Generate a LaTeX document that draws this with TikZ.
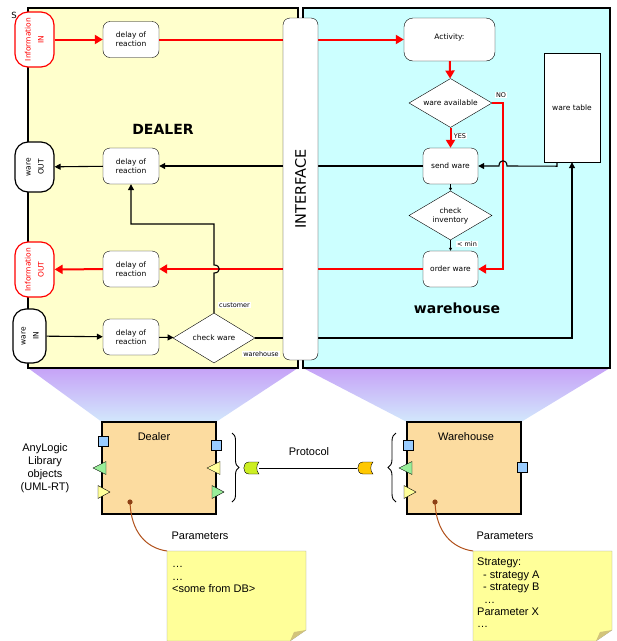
\documentclass[tikz,border=0pt]{standalone}
\usepackage{fontspec}
\setmainfont{Liberation Sans}
\newfontfamily\flowfont{DejaVu Sans}
\usetikzlibrary{arrows.meta,shapes.geometric,decorations.pathreplacing}

\definecolor{dealerbg}{HTML}{FFFFCC}
\definecolor{housebg}{HTML}{CCFFFF}
\definecolor{lilac}{HTML}{C6A2F7}
\definecolor{paleblue}{HTML}{D2E8FC}
\definecolor{objfill}{HTML}{FCDCA0}
\definecolor{portblue}{HTML}{99CCFF}
\definecolor{portgreen}{HTML}{99EE99}
\definecolor{portyellow}{HTML}{FFFF99}
\definecolor{notefill}{HTML}{FFFF99}
\definecolor{notefold}{HTML}{D2C47A}
\definecolor{notegray}{HTML}{999999}
\definecolor{pinbrown}{HTML}{B0501A}
\definecolor{pluglime}{HTML}{CCEE22}
\definecolor{plugorange}{HTML}{FFC800}

\begin{document}
\begin{tikzpicture}[x=1pt,y=-1pt,
  panel/.style={draw,line width=2.6pt},
  delaybox/.style={draw,fill=white,rounded corners=7pt,minimum width=56pt,minimum height=36pt,
    inner sep=0pt,align=center,font=\flowfont\fontsize{7.5}{9}\selectfont},
  decision/.style={diamond,draw,fill=white,aspect=1.7,minimum width=83pt,minimum height=49pt,inner sep=0pt,
    align=center,font=\flowfont\fontsize{7.5}{9}\selectfont},
  terminal/.style={draw,fill=white,rounded corners=13pt,minimum width=39pt,minimum height=55pt,
    inner sep=0pt,line width=1.2pt,font=\flowfont\fontsize{7.5}{13}\selectfont},
  flowtag/.style={fill=white,inner sep=0.8pt,font=\flowfont\fontsize{6.5}{8}\selectfont},
  flow/.style={line width=1.1pt,-{Triangle[length=6pt,width=6pt]}},
  smallflow/.style={line width=1pt,-{Triangle[length=3pt,width=3pt]}},
  redflow/.style={red,line width=2pt,-{Triangle[length=8pt,width=9pt]}},
  objbox/.style={draw,fill=objfill,line width=1.3pt,minimum width=114pt,minimum height=92pt},
  plain/.style={font=\fontsize{11}{13}\selectfont,align=center,inner sep=0pt},
  notetext/.style={font=\fontsize{11}{12.4}\selectfont,align=left,inner sep=0pt,anchor=north west}]
  \useasboundingbox (0,0) rectangle (617,641);

  % light cones under the two panels
  \shade[top color=lilac,bottom color=paleblue] (28,368) -- (298,368) -- (216,422) -- (102,422) -- cycle;
  \shade[top color=lilac,bottom color=paleblue] (303,368) -- (610,368) -- (521,422) -- (407,422) -- cycle;

  \draw[panel,fill=dealerbg] (28,8) rectangle (298,368);
  \draw[panel,fill=housebg] (303,8) rectangle (610,368);

  \node[font=\flowfont\fontsize{8.5}{9}\selectfont] (smark) at (14,15) {S};
  \node[font=\flowfont\bfseries\fontsize{14}{16}\selectfont] (dealerlbl) at (163,129) {DEALER};
  \node[font=\flowfont\bfseries\fontsize{14}{16}\selectfont] (houselbl) at (457,308) {warehouse};

  % dealer side
  \node[terminal,draw=red,text=red] (infoin) at (34.5,39.5)
    {\rotatebox{90}{\begin{tabular}{@{}c@{}}Information\\IN\end{tabular}}};
  \node[terminal,minimum height=50pt] (wareout) at (34.5,167)
    {\rotatebox{90}{\begin{tabular}{@{}c@{}}ware\\OUT\end{tabular}}};
  \node[terminal,draw=red,text=red] (infoout) at (34.5,269.5)
    {\rotatebox{90}{\begin{tabular}{@{}c@{}}Information\\OUT\end{tabular}}};
  \node[terminal,minimum width=33pt,minimum height=54pt] (warein) at (29.5,336)
    {\rotatebox{90}{\begin{tabular}{@{}c@{}}ware\\IN\end{tabular}}};
  \foreach \n/\y in {1/39.5,2/166,3/269,4/337}
    \node[delaybox] (delay\n) at (131,\y) {delay of\\reaction};
  \node[decision,minimum width=82pt,minimum height=50pt] (chkware) at (214,338) {check ware};

  % warehouse side
  \node[delaybox,minimum width=91pt,minimum height=43pt,rounded corners=9pt] (activity) at (449.5,39.5)
    {\raisebox{6pt}{Activity:}};
  \node[decision] (wavail) at (450.5,103) {ware available};
  \node[delaybox,minimum width=55pt] (sendware) at (450.5,166) {send ware};
  \node[decision] (chkinv) at (450.5,215.5) {check\\inventory};
  \node[delaybox,minimum width=55pt] (orderware) at (450.5,269) {order ware};
  \node[draw,fill=white,minimum width=56pt,minimum height=109pt,
    font=\flowfont\fontsize{7.5}{9}\selectfont] (wtable) at (572,107.5) {ware table};

  % connectors
  \draw[redflow] (infoin) -- (delay1);
  \draw[redflow] (delay1) -- (activity);
  \draw[redflow] (activity) -- (wavail);
  \draw[redflow] (wavail) -- (sendware);
  \draw[redflow] (wavail.east) -- ++(11,0) |- (orderware.east);
  \draw[redflow] (orderware) -- (delay3);
  \draw[redflow] (delay3) -- (infoout);
  \draw[flow] (sendware) -- (delay2);
  \draw[flow] (delay2) -- (wareout);
  \draw[flow] (warein) -- (delay4);
  \draw[flow] (delay4) -- (chkware);
  \draw[flow] (chkware.north) -- (214,273) .. controls (221,273) and (221,265) .. (214,265)
    -- (214,224) -| (delay2.south);
  \draw[flow] (chkware.east) -| (wtable.south);
  \draw[flow] ([xshift=-15pt]wtable.south) -- ++(0,4) -- (507,166)
    .. controls (507,159) and (499,159) .. (499,166) -- (sendware.east);
  \draw[smallflow] (sendware) -- (chkinv);
  \draw[smallflow] (chkinv) -- (orderware);

  \node[flowtag] (custtag) at (234.5,305) {customer};
  \node[flowtag] (housetag) at (261,354) {warehouse};
  \node[flowtag] (yestag) at (460,136) {YES};
  \node[flowtag] (notag) at (501,95) {NO};
  \node[flowtag] (mintag) at (467,244) {< min};

  \node[draw,fill=white,rounded corners=7pt,minimum width=35pt,minimum height=342pt,inner sep=0pt,
    font=\flowfont\fontsize{14.5}{16}\selectfont] (iface) at (300.5,189) {\rotatebox{90}{INTERFACE}};

  % library objects
  \node[plain] (anylogic) at (45,468) {AnyLogic\\Library\\objects\\(UML-RT)};
  \node[objbox] (dealerobj) at (159,468) {};
  \node[objbox] (houseobj) at (464,468) {};
  \node[plain] (dealername) at (154,437) {Dealer};
  \node[plain] (housename) at (466,437) {Warehouse};
  \foreach \x/\y in {103/441,216/445,408/445,522/467}
    \draw[fill=portblue] (\x-5,\y-5) rectangle (\x+5,\y+5);
  \foreach \x/\y/\c in {93/468/portgreen,207/468/portyellow,399/468/portgreen}
    \draw[fill=\c] (\x,\y) -- (\x+13,\y-6.5) -- (\x+13,\y+6.5) -- cycle;
  \foreach \x/\y/\c in {110/492/portyellow,224/492/portgreen,416/492/portyellow}
    \draw[fill=\c] (\x,\y) -- (\x-12,\y-6.5) -- (\x-12,\y+6.5) -- cycle;

  \draw[decorate,decoration={brace,amplitude=7pt},line width=0.9pt] (232,433) -- (232,502);
  \draw[decorate,decoration={brace,amplitude=8pt},line width=0.9pt] (396,502) -- (396,433);

  \coordinate (dealerplug) at (259,468);
  \coordinate (houseplug) at (357,468);
  \draw[line width=1pt] (dealerplug) -- (houseplug);
  \foreach \x/\c in {249/pluglime,363/plugorange}
    \draw[fill=\c] (\x,462) -- (\x+10,462) .. controls (\x+7,465) and (\x+7,471) .. (\x+10,474)
      -- (\x,474) .. controls (\x-7,474) and (\x-7,462) .. (\x,462) -- cycle;
  \node[plain] (protocol) at (309,452) {Protocol};

  % parameter notes
  \foreach \x in {167,473} {
    \draw[notegray,fill=notefill] (\x,551) -- (\x+139,551) -- (\x+139,630) -- (\x+123,641) -- (\x,641) -- cycle;
    \fill[notefold] (\x+123,641) -- (\x+139,630) -- (\x+127,632) -- cycle;
  }
  \coordinate (dealernote) at (167,551);
  \coordinate (housenote) at (473,551);
  \coordinate (dealerpin) at (130,502);
  \coordinate (housepin) at (435,502);
  \draw[pinbrown,line width=1pt] (dealerpin) .. controls (131,532) and (146,548) .. (dealernote);
  \draw[pinbrown,line width=1pt] (housepin) .. controls (436,532) and (452,548) .. (housenote);
  \fill[pinbrown!80!black] (dealerpin) circle (2.6pt);
  \fill[pinbrown!80!black] (housepin) circle (2.6pt);
  \node[plain] (dealerparam) at (200,536) {Parameters};
  \node[plain] (houseparam) at (505,536) {Parameters};
  \node[notetext] (dealernotetxt) at (172,559) {\strut…\\…\\<some from DB>};
  \node[notetext] (housenotetxt) at (477,557) {\strut Strategy:\\\hspace*{6pt}- strategy A\\
    \hspace*{6pt}- strategy B\\\hspace*{7pt}…\\Parameter X\\…};
\end{tikzpicture}
\end{document}
